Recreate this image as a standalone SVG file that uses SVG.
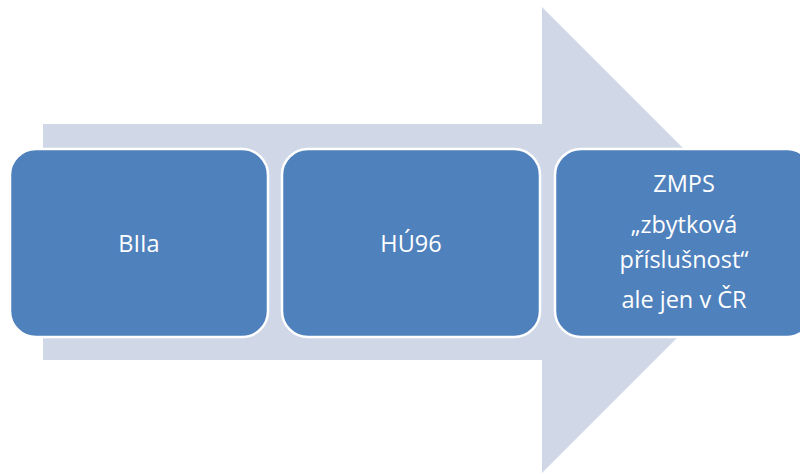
<svg xmlns="http://www.w3.org/2000/svg" width="800" height="474" viewBox="0 0 800 474">
<style>
.arrow{fill:#D0D8E8}
.box{fill:#4F81BD;stroke:#FFFFFF;stroke-width:2.5}
.t{fill:#FFFFFF;font-family:"Open Sans","Liberation Sans",sans-serif;font-size:23.5px;text-anchor:middle}
</style>
<rect width="800" height="474" fill="#FFFFFF"/>
<g id="arrow">
<polygon class="arrow" points="43,124 542,124 542,7 775,240 542,473 542,360 43,360"/>
</g>
<g id="node-biia">
<rect class="box" x="10" y="149" width="258" height="188" rx="26" ry="26"/>
<text class="t" x="139" y="252">BIIa</text>
</g>
<g id="node-hu96">
<rect class="box" x="282" y="149" width="258" height="188" rx="26" ry="26"/>
<text class="t" x="411" y="252">HÚ96</text>
</g>
<g id="node-zmps">
<rect class="box" x="555" y="149" width="258" height="188" rx="26" ry="26"/>
<text class="t" x="684" y="192">ZMPS</text>
<text class="t" x="684" y="233">„zbytková</text>
<text class="t" x="684" y="268">příslušnost“</text>
<text class="t" x="684" y="308">ale jen v ČR</text>
</g>
</svg>
